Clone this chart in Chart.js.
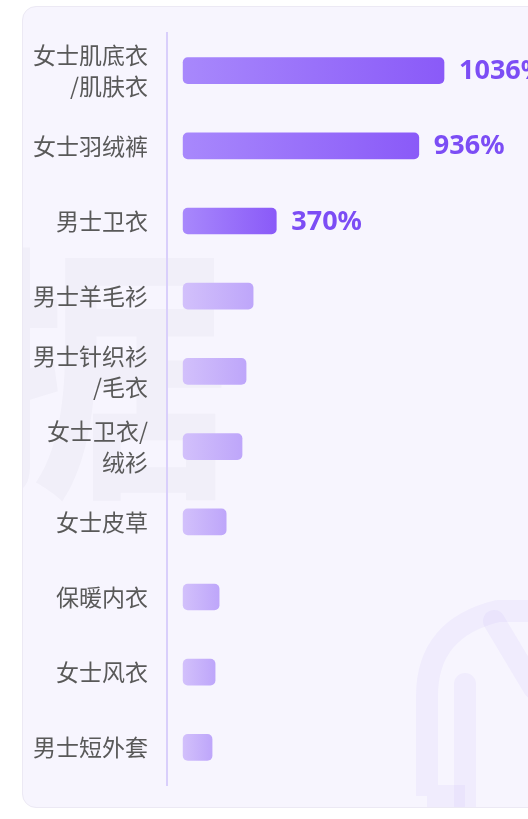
<!DOCTYPE html>
<html>
<head>
<meta charset="utf-8">
<script src="https://cdn.jsdelivr.net/npm/chart.js@4.4.0/dist/chart.umd.min.js"></script>
<style>
  html, body { margin: 0; padding: 0; background: #fff; overflow: hidden; }
  .card {
    position: absolute; left: 22px; top: 6px; width: 560px; height: 802px;
    background: #f7f5fe; border: 1px solid #ece9f4; border-radius: 14px;
    box-sizing: border-box; overflow: hidden;
  }
  #wrap { position: absolute; left: -1px; top: -1px; width: 560px; height: 802px; }
</style>
</head>
<body>
<div class="card"><div id="wrap"><canvas id="myChart"></canvas></div></div>
<script>
var categories = [
  ["女士肌底衣", "/肌肤衣"],
  "女士羽绒裤",
  "男士卫衣",
  "男士羊毛衫",
  ["男士针织衫", "/毛衣"],
  ["女士卫衣/", "绒衫"],
  "女士皮草",
  "保暖内衣",
  "女士风衣",
  "男士短外套"
];
var growth = [1036, 936, 370, 278, 250, 234, 171, 143, 127, 115];
var valueLabels = ["1036%", "936%", "370%", "", "", "", "", "", "", ""];

var strongColors = ["#a888fc", "#8a5af8"];
var softColors = ["#d2c0fb", "#bea6fa"];

function barFill(c) {
  var chart = c.chart;
  if (!chart.chartArea) return softColors[0];
  var xs = chart.scales.x;
  var x0 = xs.getPixelForValue(0);
  var x1 = xs.getPixelForValue(c.raw);
  var g = chart.ctx.createLinearGradient(x0, 0, x1, 0);
  var cols = c.dataIndex < 3 ? strongColors : softColors;
  g.addColorStop(0, cols[0]);
  g.addColorStop(1, cols[1]);
  return g;
}

// faint background marks
var watermark = {
  id: "watermark",
  beforeDraw: function(chart) {
    var ctx = chart.ctx;
    ctx.save();
    ctx.fillStyle = "rgba(60,50,90,0.03)";
    ctx.font = "bold 270px 'Noto Sans CJK SC'";
    ctx.textBaseline = "middle";
    ctx.fillText("据", -60, 368);

    ctx.strokeStyle = "rgba(130,100,240,0.06)";
    ctx.lineWidth = 22;
    ctx.lineJoin = "round";
    ctx.beginPath();
    ctx.moveTo(405, 790);
    ctx.lineTo(405, 690);
    ctx.quadraticCurveTo(405, 622, 476, 605);
    ctx.lineTo(560, 605);
    ctx.moveTo(405, 790);
    ctx.lineTo(443, 790);
    ctx.stroke();
    ctx.lineCap = "round";
    ctx.beginPath();
    ctx.moveTo(443, 678);
    ctx.lineTo(443, 830);
    ctx.moveTo(472, 615);
    ctx.lineTo(512, 682);
    ctx.stroke();
    ctx.restore();
  }
};

var valueText = {
  id: "valueText",
  afterDatasetsDraw: function(chart) {
    var ctx = chart.ctx;
    var meta = chart.getDatasetMeta(0);
    ctx.save();
    ctx.fillStyle = "#7c4df5";
    ctx.font = "bold 27px 'Noto Sans'";
    ctx.textBaseline = "middle";
    meta.data.forEach(function(bar, i) {
      if (valueLabels[i]) ctx.fillText(valueLabels[i], bar.x + 15, bar.y + 1);
    });
    ctx.restore();
  }
};

new Chart("myChart", {
  type: "bar",
  data: {
    labels: categories,
    datasets: [{
      data: growth,
      backgroundColor: barFill,
      borderRadius: 5,
      borderSkipped: false,
      barThickness: 26
    }]
  },
  options: {
    indexAxis: "y",
    responsive: true,
    maintainAspectRatio: false,
    animation: false,
    layout: { padding: { left: 11, top: 27, bottom: 23, right: 0 } },
    plugins: { legend: { display: false }, tooltip: { enabled: false } },
    scales: {
      x: {
        display: false,
        min: -64,
        max: 1584
      },
      y: {
        grid: { display: false, drawTicks: false },
        border: { display: true, color: "#d9cffb", width: 2 },
        ticks: {
          color: "#595959",
          padding: 19,
          font: { family: "'Noto Sans CJK SC'", size: 23, lineHeight: 1.35 }
        },
        afterFit: function(scale) {
          scale.width = 134;
          scale.paddingTop = 0;
          scale.paddingBottom = 0;
        }
      }
    }
  },
  plugins: [watermark, valueText]
});
</script>
</body>
</html>
